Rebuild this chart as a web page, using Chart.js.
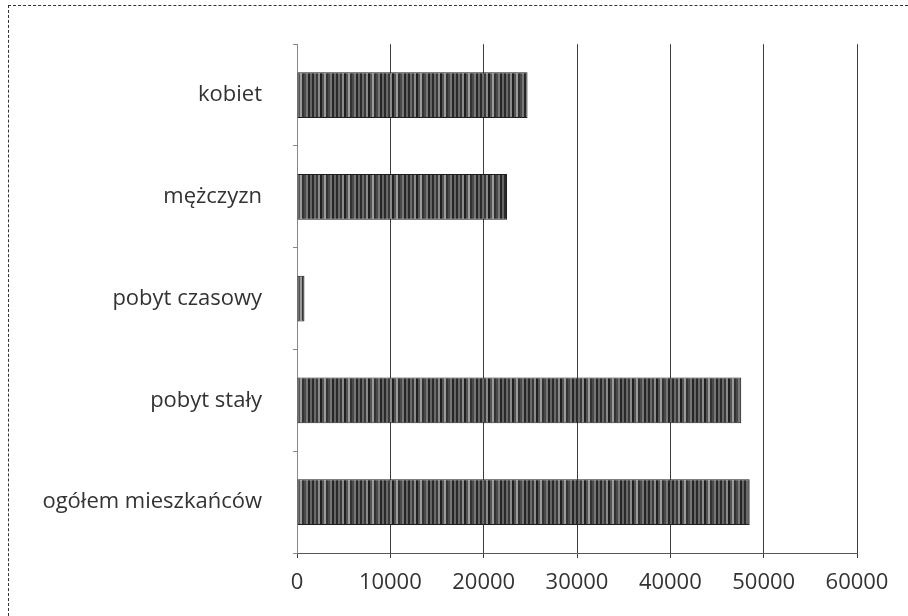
<!DOCTYPE html>
<html>
<head>
<meta charset="utf-8">
<script src="https://cdn.jsdelivr.net/npm/chart.js@4.4.0/dist/chart.umd.min.js"></script>
<style>
  html, body { margin: 0; padding: 0; background: #fff; }
  #wrap { position: relative; width: 908px; height: 616px; }
  #frame {
    position: absolute; left: 8px; top: 5px; right: 0; bottom: 0;
    border-top: 1px dashed #333; border-left: 1px dashed #333;
    pointer-events: none;
  }
</style>
</head>
<body>
<div id="wrap">
  <canvas id="chart" width="908" height="616"></canvas>
  <div id="frame"></div>
</div>
<script>
// categories (top to bottom) and values
const categories = ['kobiet', 'mężczyzn', 'pobyt czasowy', 'pobyt stały', 'ogółem mieszkańców'];
const residents = [24700, 22500, 800, 47600, 48500];
const xTicks = [0, 10000, 20000, 30000, 40000, 50000, 60000];

// scanned-looking stripe texture for the bars
function makeStripes() {
  const shades = ['#2a2a2a', '#6a6a6a', '#3a3a3a', '#8a8a8a', '#202020', '#555', '#9a9a9a', '#333', '#4a4a4a', '#777', '#262626', '#666'];
  const c = document.createElement('canvas');
  c.width = shades.length * 2;
  c.height = 8;
  const g = c.getContext('2d');
  shades.forEach((s, i) => {
    g.fillStyle = s;
    g.fillRect(i * 2, 0, 2, 8);
  });
  return g.createPattern(c, 'repeat');
}

const labelFont = { family: "'Open Sans', sans-serif", size: 22 };

new Chart(document.getElementById('chart').getContext('2d'), {
  type: 'bar',
  data: {
    labels: categories,
    datasets: [{
      data: residents,
      backgroundColor: makeStripes(),
      borderColor: '#1e1e1e',
      borderWidth: 1,
      borderSkipped: false,
      barPercentage: 0.45,
      categoryPercentage: 1
    }]
  },
  options: {
    indexAxis: 'y',
    responsive: false,
    animation: false,
    layout: { padding: { left: 8, right: 51, top: 40, bottom: 0 } },
    plugins: { legend: { display: false }, tooltip: { enabled: false } },
    scales: {
      x: {
        min: 0,
        max: 60000,
        afterBuildTicks: (scale) => { scale.ticks = xTicks.map(v => ({ value: v })); },
        afterFit: (scale) => { scale.height = 63; },
        grid: { color: '#3c3c3c', lineWidth: 1, tickLength: 5 },
        border: { display: true, color: '#555' },
        ticks: {
          color: '#333', font: labelFont, padding: 12, maxRotation: 0,
          callback: (v) => String(v)
        }
      },
      y: {
        afterFit: (scale) => { scale.width = 289; },
        grid: { drawOnChartArea: false, color: '#888', tickLength: 4 },
        border: { display: true, color: '#888' },
        ticks: { color: '#333', font: labelFont, padding: 31 }
      }
    }
  }
});
</script>
</body>
</html>
